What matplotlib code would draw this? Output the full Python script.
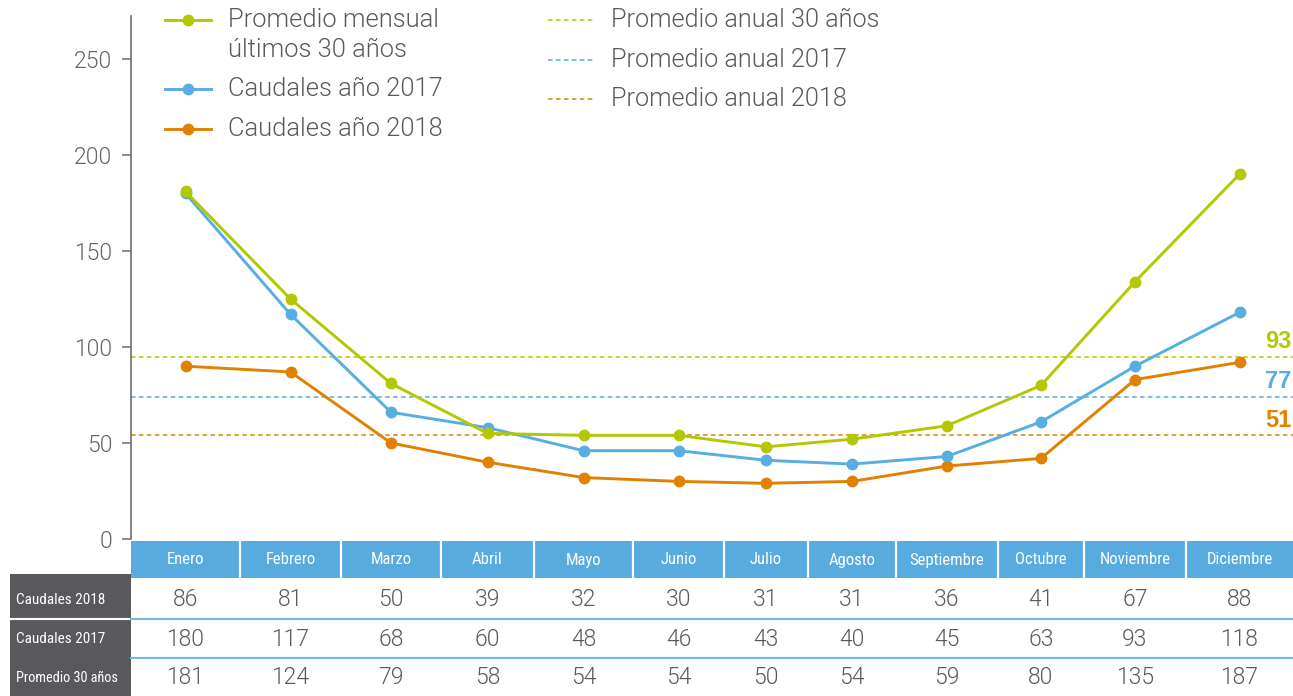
import numpy as np
import matplotlib
matplotlib.use("Agg")
import matplotlib.pyplot as plt
from matplotlib import font_manager
from matplotlib.font_manager import FontProperties
from matplotlib.patches import Rectangle

# datos
meses = ["Enero", "Febrero", "Marzo", "Abril", "Mayo", "Junio", "Julio",
         "Agosto", "Septiembre", "Octubre", "Noviembre", "Diciembre"]

# valores dibujados
promedio_30 = [181, 125, 81, 55, 54, 54, 48, 52, 59, 80, 134, 190]
caudales_2017 = [180, 117, 66, 58, 46, 46, 41, 39, 43, 61, 90, 118]
caudales_2018 = [90, 87, 50, 40, 32, 30, 29, 30, 38, 42, 83, 92]

# promedios anuales: posición de la línea y etiqueta
promedio_anual = [95, 74, 54]
etiqueta_anual = ["93", "77", "51"]

# valores de la tabla
tabla_2018 = [86, 81, 50, 39, 32, 30, 31, 31, 36, 41, 67, 88]
tabla_2017 = [180, 117, 68, 60, 48, 46, 43, 40, 45, 63, 93, 118]
tabla_30 = [181, 124, 79, 58, 54, 54, 50, 54, 59, 80, 135, 187]
filas_tabla = ["Caudales 2018", "Caudales 2017", "Promedio 30 años"]

yticks = [0, 50, 100, 150, 200, 250]

VERDE = "#b3c800"
AZUL = "#58aee0"
NARANJA = "#e08200"
AZUL_CAB = "#58abdf"
GRIS_OSC = "#59585d"
GRIS_TXT = "#5a5a5a"


def buscar_fuente(nombres, cond):
    for nombre in nombres:
        for f in font_manager.fontManager.ttflist:
            if f.name == nombre and f.style == "normal" and cond(f):
                return f.fname
    return None


def peso(f):
    try:
        return int(f.weight)
    except (TypeError, ValueError):
        return {"light": 300, "normal": 400, "regular": 400}.get(str(f.weight), 400)


f_light = buscar_fuente(["Roboto", "Lato", "Open Sans", "Inter", "Noto Sans"],
                        lambda f: peso(f) == 300)
f_cond = buscar_fuente(["Roboto Condensed", "Liberation Sans Narrow", "Roboto", "DejaVu Sans",
                        "Open Sans", "Noto Sans"],
                       lambda f: ("condensed" in str(f.stretch) or "Narrow" in f.name
                                  or "Condensed" in f.name) and peso(f) == 400)


def fuente(fname, size, weight="normal"):
    if fname:
        fp = FontProperties(fname=fname)
    else:
        fp = FontProperties(family="DejaVu Sans", weight=weight)
    fp.set_size(size)
    return fp


W, H = 1293, 696
fig = plt.figure(figsize=(W / 100, H / 100), dpi=100)

# columnas de la tabla (ancho en px), los puntos van al centro
anchos = [109, 101, 100, 93, 99, 91, 84, 88, 102, 86, 102, 107]
bordes = np.concatenate([[0], np.cumsum(anchos)])
centros = (bordes[:-1] + bordes[1:]) / 2

x0, y_top, y_cero = 131, 16, 539
px_por_unidad = 1.92
ax = fig.add_axes([x0 / W, (H - y_cero) / H, (W - x0) / W, (y_cero - y_top) / H])
ax.set_xlim(0, bordes[-1])
ax.set_ylim(0, (y_cero - y_top) / px_por_unidad)

for v, c in zip(promedio_anual, [VERDE, AZUL, NARANJA]):
    ax.axhline(v, color=c, lw=1.1, ls=(0, (3, 2.2)), zorder=1)

for serie, c in [(caudales_2018, NARANJA), (caudales_2017, AZUL), (promedio_30, VERDE)]:
    ax.plot(centros, serie, color=c, lw=2.1, marker="o", ms=7.5, clip_on=False, zorder=3)

for v, c, t in zip(promedio_anual, [VERDE, AZUL, NARANJA], etiqueta_anual):
    ax.annotate(t, xy=(1, v), xycoords=("axes fraction", "data"), xytext=(-1, 11),
                textcoords="offset points", ha="right", va="center", color=c,
                fontsize=17, fontweight="bold", family="Liberation Sans")

for s in ["top", "right", "bottom"]:
    ax.spines[s].set_visible(False)
ax.spines["left"].set_color("#6e6e6e")
ax.spines["left"].set_linewidth(1.2)
ax.set_xticks([])
ax.set_yticks(yticks)
ax.tick_params(axis="y", length=6.5, width=1.1, color="#6e6e6e", labelcolor="#666666", pad=7)
for lbl in ax.get_yticklabels():
    lbl.set_fontproperties(fuente(f_light, 16.5))

# capa en píxeles para tabla y leyenda
tab = fig.add_axes([0, 0, 1, 1], zorder=5)
tab.set_xlim(0, W)
tab.set_ylim(H, 0)
tab.axis("off")
tab.patch.set_alpha(0)

# cabecera de meses
tab.add_patch(Rectangle((x0, 541), W - x0, 37, color=AZUL_CAB, lw=0))
for b in bordes[1:-1]:
    tab.plot([x0 + b, x0 + b], [541, 578], color="white", lw=1.6)
for cx, m in zip(centros, meses):
    tab.text(x0 + cx, 560, m, ha="center", va="center", color="white",
             fontproperties=fuente(f_cond, 12))

# etiquetas de filas
tab.add_patch(Rectangle((10, 574), x0 - 10, H - 574, color=GRIS_OSC, lw=0))
tab.plot([10, x0], [619, 619], color="white", lw=1.5)
for y in [619, 658]:
    tab.plot([x0, W], [y, y], color="#74b9e6", lw=1.5)

filas_y = [600, 639, 678]
for y, nombre, valores in zip(filas_y, filas_tabla, [tabla_2018, tabla_2017, tabla_30]):
    tab.text(16, y, nombre, ha="left", va="center", color="white",
             fontproperties=fuente(f_cond, 10.3 if nombre.startswith("Promedio") else 11))
    for cx, v in zip(centros, valores):
        tab.text(x0 + cx, y, str(v), ha="center", va="center", color=GRIS_TXT,
                 fontproperties=fuente(f_light, 16.5))

# leyenda
leyenda_lineas = [("Promedio mensual\núltimos 30 años", VERDE, 35, 20),
                  ("Caudales año 2017", AZUL, 89, 89),
                  ("Caudales año 2018", NARANJA, 129, 129)]
for texto, c, yt, ym in leyenda_lineas:
    tab.plot([165, 211], [ym, ym], color=c, lw=2.1)
    tab.plot([188], [ym], "o", color=c, ms=7.5)
    tab.text(228, yt, texto, ha="left", va="center", color=GRIS_TXT, linespacing=1.35,
             fontproperties=fuente(f_light, 18.4))

leyenda_promedios = [("Promedio anual 30 años", VERDE, 20),
                     ("Promedio anual 2017", AZUL, 60),
                     ("Promedio anual 2018", NARANJA, 99)]
for texto, c, y in leyenda_promedios:
    tab.plot([548, 595], [y, y], color=c, lw=1.1, ls=(0, (3, 2.2)))
    tab.text(611, y, texto, ha="left", va="center", color=GRIS_TXT,
             fontproperties=fuente(f_light, 18.2))

fig.savefig("out.png", dpi=100)
